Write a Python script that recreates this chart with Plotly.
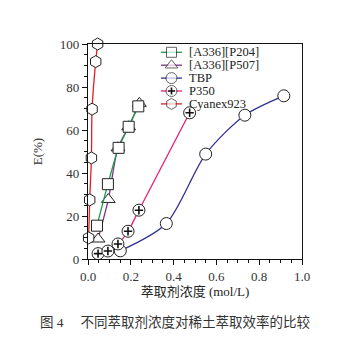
import plotly.graph_objects as go

# ---- data ----
series_names = ["[A336][P204]", "[A336][P507]", "TBP", "P350", "Cyanex923"]

p204_x = [0.042, 0.093, 0.143, 0.19, 0.235]
p204_y = [15.5, 34.8, 51.7, 61.5, 71.0]

p507_x = [0.047, 0.095, 0.14, 0.19, 0.24]
p507_y = [9.3, 27.7, 51.7, 61.5, 72.4]

tbp_x = [0.151, 0.366, 0.55, 0.733, 0.915]
tbp_y = [3.8, 16.5, 48.8, 66.9, 75.9]

p350_x = [0.047, 0.093, 0.14, 0.187, 0.238, 0.475]
p350_y = [2.5, 3.7, 7.0, 12.9, 22.7, 68.0]

cy_x = [0.003, 0.008, 0.016, 0.019, 0.036, 0.045]
cy_y = [9.8, 27.5, 47.0, 69.7, 91.8, 100.0]

x_ticks = [0.0, 0.2, 0.4, 0.6, 0.8, 1.0]
x_tick_labels = ["0.0", "0.2", "0.4", "0.6", "0.8", "1.0"]
y_ticks = [0, 20, 40, 60, 80, 100]

x_title = "萃取剂浓度 (mol/L)"
y_title = "E(%)"
caption = "图 4\u3000 不同萃取剂浓度对稀土萃取效率的比较"

# ---- styles ----
colors = ["#1f9a48", "#7d2f8f", "#2f3192", "#ec1e79", "#e41e26"]
symbols = ["square", "triangle-up", "circle", "circle", "hexagon"]
sizes = [11, 12, 12, 12, 12]
SERIF = "Liberation Serif"
MIXED = "Liberation Serif, Noto Sans CJK SC"

W, H = 364, 346
L, R, T, B = 88, 62, 44, 87

fig = go.Figure()

data = [(p204_x, p204_y), (p507_x, p507_y), (tbp_x, tbp_y), (p350_x, p350_y), (cy_x, cy_y)]
draw_order = [2, 3, 1, 0, 4]
for i in draw_order:
    xs, ys = data[i]
    fig.add_trace(go.Scatter(
        x=xs, y=ys, mode="lines+markers", name=series_names[i],
        line=dict(color=colors[i], width=1.3, shape="spline", smoothing=0.8),
        marker=dict(symbol=symbols[i], size=sizes[i], color="white",
                    line=dict(color="#222", width=1)),
        cliponaxis=False, showlegend=False,
    ))
    if i == 3:
        fig.add_trace(go.Scatter(
            x=xs, y=ys, mode="markers", showlegend=False, hoverinfo="skip",
            marker=dict(symbol="cross-thin", size=6,
                        line=dict(color="#111", width=1.6)),
            cliponaxis=False,
        ))

# ---- manual legend on a hidden overlay axis (pixel-like coordinates) ----
leg_y = [52.3, 65.2, 78.1, 91.0, 103.9]
for i in range(5):
    fig.add_trace(go.Scatter(
        x=[161, 171.5, 182], y=[leg_y[i]] * 3, xaxis="x2", yaxis="y2",
        mode="lines+markers", showlegend=False, hoverinfo="skip",
        line=dict(color=colors[i], width=1.3),
        marker=dict(symbol=symbols[i], size=[0, sizes[i] - 1, 0], color="white",
                    line=dict(color="#222", width=1)),
        cliponaxis=False,
    ))
    if i == 3:
        fig.add_trace(go.Scatter(
            x=[171.5], y=[leg_y[i]], xaxis="x2", yaxis="y2", mode="markers",
            showlegend=False, hoverinfo="skip",
            marker=dict(symbol="cross-thin", size=5, line=dict(color="#111", width=1.6)),
            cliponaxis=False,
        ))
    fig.add_annotation(x=187, y=leg_y[i], xref="x2", yref="y2", text=series_names[i],
                       showarrow=False, xanchor="left", yanchor="middle",
                       font=dict(family=SERIF, size=12.5, color="#222"))

axis_common = dict(
    showline=True, linecolor="#111", linewidth=1.2, mirror=True,
    ticks="outside", ticklen=5, tickwidth=1, tickcolor="#111",
    showgrid=False, zeroline=False,
    tickfont=dict(family=SERIF, size=13, color="#333"),
)

fig.update_layout(
    width=W, height=H,
    margin=dict(l=L, r=R, t=T, b=B),
    paper_bgcolor="white", plot_bgcolor="white",
    showlegend=False,
    font=dict(family=SERIF),
    xaxis=dict(range=[0, 1], tickvals=x_ticks, ticktext=x_tick_labels,
               minor=dict(dtick=0.05, ticks="outside", ticklen=3, tickcolor="#111"),
               title=dict(text=x_title, font=dict(family=MIXED, size=13, color="#222"), standoff=4),
               **axis_common),
    yaxis=dict(range=[0, 100], tickvals=y_ticks,
               minor=dict(dtick=5, ticks="outside", ticklen=3, tickcolor="#111"),
               title=dict(text=y_title, font=dict(family=SERIF, size=13, color="#333"), standoff=14),
               **axis_common),
    xaxis2=dict(range=[L, W - R], overlaying="x", visible=False, fixedrange=True),
    yaxis2=dict(range=[H - B, T], overlaying="y", visible=False, fixedrange=True),
)

fig.add_annotation(x=0.407, y=-0.293, xref="paper", yref="paper", text=caption,
                   showarrow=False, xanchor="center", yanchor="middle",
                   font=dict(family=MIXED, size=13.5, color="#333"))

fig.write_html("out.html")
